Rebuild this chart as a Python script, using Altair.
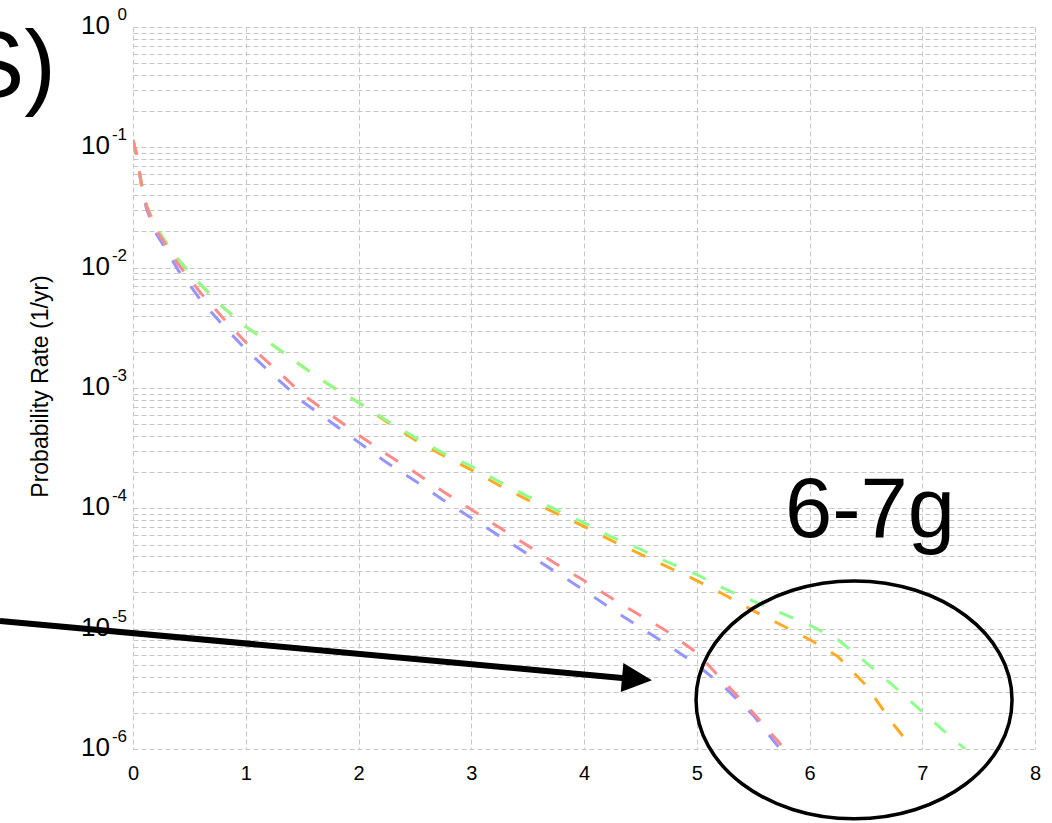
import altair as alt
import pandas as pd

FONT = "Liberation Sans"

# ---- curve data ----
red_x = [0, 0.03, 0.08, 0.12, 0.2, 0.3, 0.4, 0.5, 0.6, 0.8, 1.0, 1.25, 1.5, 1.75, 2.0, 2.25, 2.5, 2.75,
         3.0, 3.25, 3.5, 3.75, 4.0, 4.25, 4.5, 4.75, 5.0, 5.25, 5.5, 5.78]
red_y = [0.1148, 0.08913, 0.04677, 0.03236, 0.02089, 0.01514, 0.01072, 0.008128, 0.006166, 0.003802,
         0.002399, 0.001479, 0.0008913, 0.0006026, 0.0004074, 0.0002818, 0.0001995, 0.0001380,
         9.772e-5, 6.918e-5, 4.898e-5, 3.467e-5, 2.512e-5, 1.778e-5, 1.288e-5, 9.33e-6, 6.31e-6,
         3.55e-6, 2.00e-6, 1.0e-6]

blue_x = [0, 0.03, 0.08, 0.12, 0.2, 0.3, 0.4, 0.5, 0.6, 0.8, 1.0, 1.25, 1.5, 1.75, 2.0, 2.25, 2.5, 2.75,
          3.0, 3.25, 3.5, 3.75, 4.0, 4.25, 4.5, 4.75, 5.0, 5.25, 5.5, 5.74]
blue_y = [0.1148, 0.08710, 0.04467, 0.03090, 0.01950, 0.01380, 0.009550, 0.007244, 0.005370, 0.003311,
          0.002089, 0.001259, 0.0007762, 0.0005248, 0.0003548, 0.0002399, 0.0001698, 0.0001175,
          8.318e-5, 5.888e-5, 4.169e-5, 2.951e-5, 2.089e-5, 1.445e-5, 1.023e-5, 7.24e-6, 5.01e-6,
          3.24e-6, 1.91e-6, 1.0e-6]

green_x = [0, 0.03, 0.08, 0.12, 0.2, 0.3, 0.4, 0.5, 0.6, 0.8, 1.0, 1.25, 1.5, 1.75, 2.0, 2.25, 2.5, 2.75,
           3.0, 3.25, 3.5, 3.75, 4.0, 4.25, 4.5, 4.75, 5.0, 5.25, 5.5, 5.75, 6.0, 6.25, 6.5, 6.75,
           7.0, 7.25, 7.38]
green_y = [0.1148, 0.08913, 0.04677, 0.03311, 0.02188, 0.01585, 0.01175, 0.009120, 0.007244, 0.004677,
           0.003236, 0.002239, 0.001514, 0.001047, 0.0007586, 0.0005370, 0.0003890, 0.0002884,
           0.0002239, 0.0001660, 0.0001259, 9.772e-5, 7.586e-5, 5.754e-5, 4.571e-5, 3.548e-5,
           2.818e-5, 2.138e-5, 1.698e-5, 1.349e-5, 1.072e-5, 8.13e-6, 5.25e-6, 3.31e-6, 2.04e-6,
           1.26e-6, 1.0e-6]

orange_x = [0, 0.03, 0.08, 0.12, 0.2, 0.3, 0.4, 0.5, 0.6, 0.8, 1.0, 1.25, 1.5, 1.75, 2.0, 2.25, 2.5, 2.75,
            3.0, 3.25, 3.5, 3.75, 4.0, 4.25, 4.5, 4.75, 5.0, 5.25, 5.5, 5.75, 6.0, 6.25, 6.5, 6.75, 6.92]
orange_y = [0.1148, 0.08913, 0.04677, 0.03311, 0.02188, 0.01585, 0.01175, 0.009120, 0.007244, 0.004677,
            0.003236, 0.002239, 0.001514, 0.001047, 0.0007586, 0.0005248, 0.0003715, 0.0002754,
            0.0002089, 0.0001549, 0.0001175, 9.120e-5, 7.079e-5, 5.370e-5, 4.169e-5, 3.236e-5,
            2.512e-5, 1.905e-5, 1.413e-5, 1.072e-5, 8.13e-6, 5.89e-6, 3.39e-6, 1.58e-6, 1.0e-6]

# ---- axis / label data ----
x_ticks = [0, 1, 2, 3, 4, 5, 6, 7, 8]
decades = [1, 1e-1, 1e-2, 1e-3, 1e-4, 1e-5, 1e-6]
decade_base = ["10", "10", "10", "10", "10", "10", "10"]
decade_sup = ["0", "-1", "-2", "-3", "-4", "-5", "-6"]
mantissas = [1, 2, 3, 4, 5, 6, 7, 8, 9]
y_grid = sorted({m * d for d in decades[1:] for m in mantissas} | {1.0})

# ---- annotations ----
big_text = ["S)"]
big_text_x = [-0.683]
big_text_y = [0.2607]
group_text = ["6-7g"]
group_text_x = [6.537]
group_text_y = [5.78e-5]
ellipse_x = [6.395]
ellipse_y = [2.56e-6]
arrow_x = [-1.18]
arrow_y = [1.16e-5]
arrow_x2 = [4.41]
arrow_y2 = [3.84e-6]
head_x = [4.47]
head_y = [3.82e-6]

xsc = alt.Scale(domain=[0, 8], nice=False, zero=False)
ysc = alt.Scale(type="log", domain=[1e-6, 1], nice=False)

GRID = "#c6c6c6"
xaxis = alt.Axis(values=x_ticks, grid=True, gridColor=GRID, gridDash=[5, 3], gridWidth=1,
                 ticks=False, tickSize=0, domain=False, labelFont=FONT, labelFontSize=20,
                 labelColor="black", labelPadding=14, labelFlush=False, format="d", title=None)
yaxis = alt.Axis(values=y_grid, grid=True, gridColor=GRID, gridDash=[5, 3], gridWidth=1,
                 ticks=False, tickSize=0, domain=False, labels=False,
                 title="Probability Rate (1/yr)", titleFont=FONT, titleFontSize=23,
                 titleFontWeight="normal", titleColor="black", titleX=-93, titleY=359,
                 titleAngle=270, titleAlign="center", titleBaseline="middle")

X = alt.X("x:Q", scale=xsc, axis=xaxis)
Y = alt.Y("y:Q", scale=ysc, axis=yaxis)


def curve(xs, ys, color):
    df = pd.DataFrame({"x": xs, "y": ys})
    return alt.Chart(df).mark_line(color=color, strokeWidth=3, strokeDash=[15, 17],
                                   clip=True).encode(x=X, y=Y)


blue = curve(blue_x, blue_y, "#9595ff")
orange = curve(orange_x, orange_y, "#ffaa22")
green = curve(green_x, green_y, "#8cff8c")
red = curve(red_x, red_y, "#ff8a8a")

lab_df = pd.DataFrame({"x": [0] * len(decades), "y": decades, "base": decade_base, "sup": decade_sup})
lab_base = alt.Chart(lab_df).mark_text(align="right", baseline="middle", dx=-23, dy=-1,
                                       font=FONT, fontSize=26, color="black").encode(
    x=X, y=Y, text="base:N")
lab_sup = alt.Chart(lab_df).mark_text(align="right", baseline="middle", dx=-6, dy=-12,
                                      font=FONT, fontSize=17, color="black").encode(
    x=X, y=Y, text="sup:N")

big_df = pd.DataFrame({"x": big_text_x, "y": big_text_y, "t": big_text})
big = alt.Chart(big_df).mark_text(align="right", baseline="alphabetic", font=FONT,
                                  fontSize=95, color="black").encode(x=X, y=Y, text="t:N")

grp_df = pd.DataFrame({"x": group_text_x, "y": group_text_y, "t": group_text})
grp = alt.Chart(grp_df).mark_text(align="center", baseline="alphabetic", font=FONT,
                                  fontSize=85, color="black").encode(x=X, y=Y, text="t:N")

ELLIPSE = ("M 1 0 C 1 0.416 0.552 0.753 0 0.753 C -0.552 0.753 -1 0.416 -1 0 "
           "C -1 -0.416 -0.552 -0.753 0 -0.753 C 0.552 -0.753 1 -0.416 1 0 Z")
ell_df = pd.DataFrame({"x": ellipse_x, "y": ellipse_y})
ell = alt.Chart(ell_df).mark_point(shape=ELLIPSE, filled=False, stroke="black", strokeWidth=3.5,
                                   size=316 * 316, opacity=1).encode(x=X, y=Y)

arr_df = pd.DataFrame({"x": arrow_x, "y": arrow_y, "x2": arrow_x2, "y2": arrow_y2})
arr = alt.Chart(arr_df).mark_rule(color="black", strokeWidth=6).encode(
    x=X, y=Y, x2=alt.X2("x2"), y2=alt.Y2("y2"))

head_df = pd.DataFrame({"x": head_x, "y": head_y})
head = alt.Chart(head_df).mark_point(shape="M -1 -0.97 L 1 0 L -1 0.97 Z", filled=True,
                                     color="black", size=900, angle=5.2, opacity=1).encode(x=X, y=Y)

chart = alt.layer(blue, orange, green, red, lab_base, lab_sup, big, grp, ell, arr, head).properties(
    width=902, height=722,
    autosize=alt.AutoSizeParams(type="none"),
    padding={"left": 133, "top": 27, "right": 17, "bottom": 74},
    background="white",
).configure_view(stroke=None)

chart.save("out.html", embed_options={"renderer": "svg", "actions": False})
